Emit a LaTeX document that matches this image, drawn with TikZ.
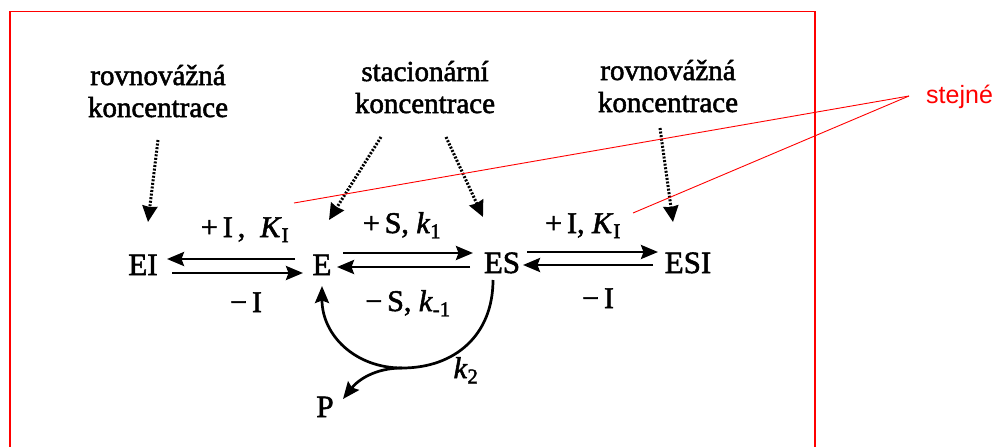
\documentclass[tikz,border=0pt]{standalone}
\usepackage{fontspec}
\setmainfont{Liberation Serif}[FakeBold=1.8]
\newfontfamily\redsans{Liberation Sans}
\usetikzlibrary{arrows.meta}
\begin{document}
\begin{tikzpicture}[x=1pt,y=-1pt,
  lbl/.style={inner sep=0pt,anchor=base,font=\fontsize{30}{32}\selectfont},
  spc/.style={inner sep=0pt,anchor=base,font=\fontsize{31}{33}\selectfont},
  txt/.style={inner sep=0pt,anchor=base,align=center,font=\fontsize{29}{32}\selectfont},
  rxn/.style={line width=2.7pt,-{Stealth[length=17pt,width=14pt,inset=2.5pt]}},
  dotarr/.style={line width=3pt,dash pattern=on 2pt off 1.6pt,-{Stealth[length=16pt,width=15pt,inset=1pt]}},
  redline/.style={red,line width=0.9pt}]
\useasboundingbox (0,0) rectangle (999,447);
\draw[red,line width=1.4pt] (10,460) -- (10,11.5) -- (815,11.5) -- (815,460);
% species
\node[spc] (EI) at (143,275) {EI};
\node[spc] (E) at (322,275) {E};
\node[spc] (ES) at (502,273) {ES};
\node[spc] (ESI) at (688,273) {ESI};
\node[spc] (P) at (325,417) {P};
% top texts
\node[txt] (t1) at (158,117) {rovnovážná\\koncentrace};
\node[txt] (t2) at (425,113) {stacionární\\koncentrace};
\node[txt] (t3) at (668,112) {rovnovážná\\koncentrace};
\node[inner sep=0pt,anchor=base west,text=red,font=\redsans\fontsize{25}{27}\selectfont] (st) at (926,103) {stejné};
% labels
\node[lbl] (l1) at (245,237) {+\,I\,,\ \ \textit{K}\textsubscript{I}};
\node[lbl] (l2) at (246,312) {−\,I};
\node[lbl] (l3) at (402,233) {+\,S,\ \textit{k}\textsubscript{1}};
\node[lbl] (l4) at (408,311) {−\,S,\ \textit{k}\textsubscript{-1}};
\node[lbl] (l5) at (583,233) {+\,I,\ \textit{K}\textsubscript{I}};
\node[lbl] (l6) at (598,308) {−\,I};
\node[lbl] (l7) at (466,378) {\textit{k}\textsubscript{2}};
% double arrows
\coordinate (a1s) at (295,259); \coordinate (a1e) at (167,259);
\coordinate (a2s) at (172,273); \coordinate (a2e) at (303,273);
\coordinate (a3s) at (343,253); \coordinate (a3e) at (473,253);
\coordinate (a4s) at (470,267); \coordinate (a4e) at (337,267);
\coordinate (a5s) at (527,252); \coordinate (a5e) at (658,252);
\coordinate (a6s) at (653,265); \coordinate (a6e) at (523,265);
\draw[rxn] (a1s) -- (a1e);
\draw[rxn] (a2s) -- (a2e);
\draw[rxn] (a3s) -- (a3e);
\draw[rxn] (a4s) -- (a4e);
\draw[rxn] (a5s) -- (a5e);
\draw[rxn] (a6s) -- (a6e);
% dotted arrows
\coordinate (d1s) at (158,140); \coordinate (d1e) at (148,222);
\coordinate (d2s) at (381,137); \coordinate (d2e) at (329,220);
\coordinate (d3s) at (446,137); \coordinate (d3e) at (483,217);
\coordinate (d4s) at (660,128); \coordinate (d4e) at (673,222);
\draw[dotarr] (d1s) -- (d1e);
\draw[dotarr] (d2s) -- (d2e);
\draw[dotarr] (d3s) -- (d3e);
\draw[dotarr] (d4s) -- (d4e);
% curve ES -> E and branch to P
\coordinate (cs) at (493,280);
\coordinate (cb) at (402,368);
\coordinate (ce) at (322,286);
\coordinate (pe) at (343,399);
\draw[rxn] (cs) .. controls (493,335) and (455,368) .. (cb) .. controls (355,368) and (322,335) .. (ce);
\draw[rxn] (cb) .. controls (375,368) and (358,380) .. (pe);
% red lines
\coordinate (rv) at (909,96);
\coordinate (r1) at (294,203);
\coordinate (r2) at (633,213);
\draw[redline] (rv) -- (r1);
\draw[redline] (rv) -- (r2);
\end{tikzpicture}
\end{document}
